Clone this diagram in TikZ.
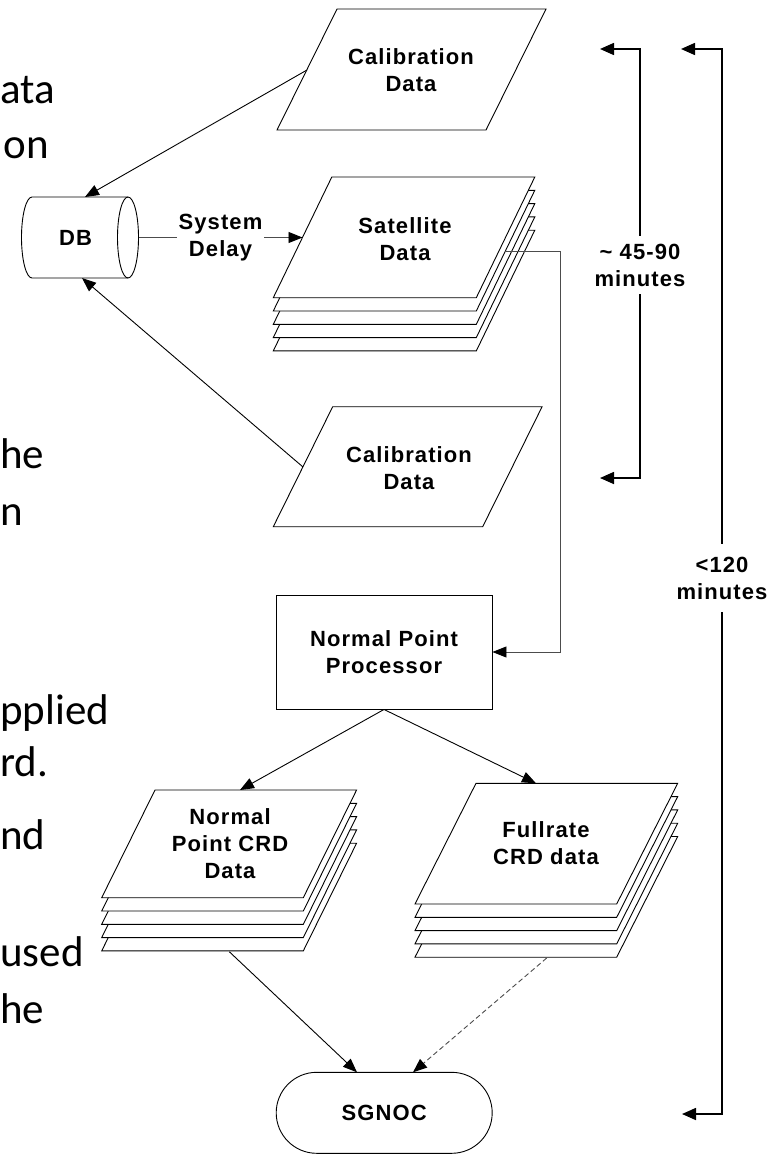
\documentclass[tikz,border=0pt]{standalone}
\usepackage{fontspec}
\setmainfont{Liberation Sans}[LetterSpace=5]
\newfontfamily\slidefont{Carlito}
\usetikzlibrary{arrows.meta}
\tikzset{
  shp/.style={draw=black, fill=white, line width=0.9pt, line join=miter},
  lbl/.style={font=\bfseries\fontsize{22}{27}\selectfont, align=center, inner sep=0pt},
  conn/.style={draw=black, line width=0.9pt, -{Triangle[length=14pt,width=11pt,color=black]}},
  gconn/.style={conn, draw=black!70},
  dconn/.style={conn, draw=black!70, dash pattern=on 5pt off 3pt},
  bracket/.style={draw=black, line width=1.6pt, -{Triangle[length=14pt,width=12pt]}},
  slide/.style={font=\slidefont\fontsize{43}{52}\selectfont, anchor=base west, inner sep=0pt},
}
\newcommand\sheetpath[5]{\path[shp] (#1,#2) -- (#1+#3,#2) -- (#1+#3+#5,#2-#4) -- (#1+#5,#2-#4) -- cycle;}
\newcommand\stackof[5]{\foreach \k in {4,3,2,1}{\sheetpath{#1}{#2+13.3*\k}{#3}{#4}{#5}}\sheetpath{#1}{#2}{#3}{#4}{#5}}
\begin{document}
\begin{tikzpicture}[x=1pt,y=-1pt]
\useasboundingbox (0,0) rectangle (779,1154);
\clip (0,0) rectangle (779,1154);
\fill[white] (0,0) rectangle (779,1154);

% slide text fragments
\node[slide] (s1) at (0,103) {ata};
\node[slide, anchor=base east] (s2) at (49,158) {on};
\node[slide] (s3) at (0,468) {he};
\node[slide] (s4) at (0,525) {n};
\node[slide] (s5) at (0,724) {pplied};
\node[slide] (s6) at (0,776) {rd.};
\node[slide] (s7) at (0,849) {nd};
\node[slide] (s8) at (0,966) {used};
\node[slide] (s9) at (0,1023) {he};

% shapes
\sheetpath{277}{130}{209}{121}{60}
\stackof{273.3}{297.7}{203}{120.7}{58.5}
\sheetpath{273.3}{526.7}{209.4}{120}{59.4}
\stackof{101.7}{897.7}{201.6}{107.7}{53.3}
\stackof{415}{904}{201.7}{120.7}{61}

% DB cylinder
\path[shp] (32,197) -- (128,197) arc[start angle=90,end angle=-90,x radius=10.5pt,y radius=40.5pt]
  -- (32,278) arc[start angle=270,end angle=90,x radius=10.5pt,y radius=40.5pt] -- cycle;
\draw[line width=0.9pt] (128,197) arc[start angle=90,end angle=270,x radius=10.5pt,y radius=40.5pt];
\node[lbl] (db) at (75.5,238) {DB};
\coordinate (dbE) at (138.5,237.5);
\coordinate (dbN) at (85,197);
\coordinate (dbS) at (82,278);

% labels in data shapes
\node[lbl] (cal1) at (411,70) {Calibration\\Data};
\node[lbl] (sat) at (405,239) {Satellite\\Data};
\node[lbl] (cal2) at (409,468) {Calibration\\Data};
\node[lbl] (npcrd) at (230,844) {Normal\\Point CRD\\Data};
\node[lbl] (fr) at (546,843) {Fullrate\\CRD data};

\node[lbl, draw, line width=0.9pt, minimum width=216pt, minimum height=114pt] (npp) at (384,652) {Normal Point\\Processor};
\node[lbl, draw, line width=0.9pt, rounded corners=40.5pt, minimum width=216pt, minimum height=81pt] (sg) at (384.2,1112.8) {SGNOC};

% connection points on shapes
\coordinate (cal1L) at (307,70);
\coordinate (cal2L) at (303,467);
\coordinate (satL) at (302.5,237.5);
\coordinate (satR) at (505,251);
\coordinate (npcrdT) at (240,790);
\coordinate (npcrdB) at (229.3,951.7);
\coordinate (frT) at (536,783.3);
\coordinate (frB) at (546.7,958);
\coordinate (sgA) at (357,1072.3);
\coordinate (sgB) at (413,1072.3);

% connectors
\draw[conn] (cal1L) -- (dbN);
\draw[conn] (cal2L) -- (dbS);
\draw[gconn] (dbE) -- node[lbl, fill=white, inner sep=2pt] (sd) {System\\Delay} (satL);
\draw[gconn] (satR) -- (560,251) -- (560,652) -- (npp.east);
\draw[conn] (npp.south) -- (npcrdT);
\draw[conn] (npp.south) -- (frT);
\draw[conn] (npcrdB) -- (sgA);
\draw[dconn] (frB) -- (sgB);

% time brackets
\node[lbl, minimum height=58pt] (t1) at (640,265) {\textasciitilde{} 45-90\\minutes};
\node[lbl, minimum height=68pt] (t2) at (722,578) {<120\\minutes};
\coordinate (t1a) at (600,49);
\coordinate (t1b) at (600,478);
\coordinate (t2a) at (681,49);
\coordinate (t2b) at (682,1114);
\draw[bracket] (t1.north) |- (t1a);
\draw[bracket] (t1.south) |- (t1b);
\draw[bracket] (t2.north) |- (t2a);
\draw[bracket] (t2.south) |- (t2b);
\end{tikzpicture}
\end{document}
